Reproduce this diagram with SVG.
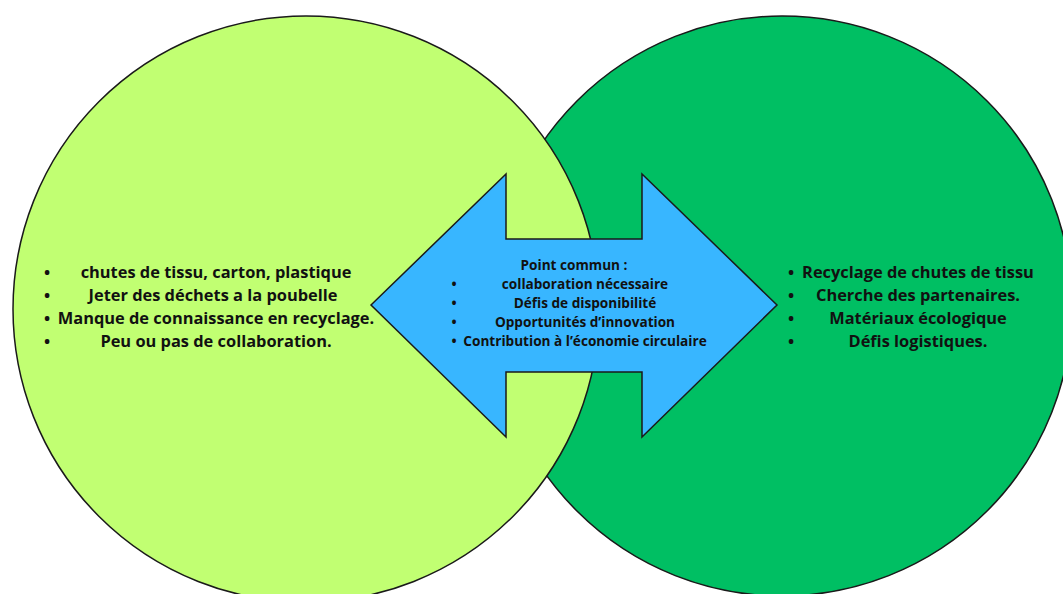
<svg xmlns="http://www.w3.org/2000/svg" width="1063" height="594" viewBox="0 0 1063 594">
<style>
.c{stroke:#1a1a1a;stroke-width:1.5}
.t{font-family:"Open Sans","Liberation Sans",sans-serif;font-weight:700;fill:#111;text-anchor:middle}
.big{font-size:16.4px}
.sm{font-size:13.6px}
</style>
<rect width="1063" height="594" fill="#ffffff"/>
<g id="circle-right">
<circle class="c" cx="782" cy="306" r="290" fill="#00BF63"/>
</g>
<g id="circle-left">
<circle class="c" cx="306" cy="309" r="293" fill="#C1FF72"/>
</g>
<g id="arrow">
<polygon class="c" fill="#38B6FF" points="371,305 506,174 506,239 642,239 642,174 777,305 642,437 642,372 506,372 506,437"/>
</g>
<g id="left-text" class="t big">
<text x="47" y="278">•</text><text x="216" y="278">chutes de tissu, carton, plastique</text>
<text x="47" y="301">•</text><text x="213" y="301">Jeter des déchets a la poubelle</text>
<text x="47" y="324">•</text><text x="216" y="324">Manque de connaissance en recyclage.</text>
<text x="47" y="347">•</text><text x="216" y="347">Peu ou pas de collaboration.</text>
</g>
<g id="middle-text" class="t sm">
<text x="574" y="270">Point commun :</text>
<text x="454" y="289">•</text><text x="585" y="289">collaboration nécessaire</text>
<text x="454" y="308">•</text><text x="585" y="308">Défis de disponibilité</text>
<text x="454" y="327">•</text><text x="585" y="327">Opportunités d’innovation</text>
<text x="454" y="346">•</text><text x="585" y="346">Contribution à l’économie circulaire</text>
</g>
<g id="right-text" class="t big">
<text x="791" y="278">•</text><text x="918" y="278">Recyclage de chutes de tissu</text>
<text x="791" y="301">•</text><text x="918" y="301">Cherche des partenaires.</text>
<text x="791" y="324">•</text><text x="918" y="324">Matériaux écologique</text>
<text x="791" y="347">•</text><text x="918" y="347">Défis logistiques.</text>
</g>
</svg>
